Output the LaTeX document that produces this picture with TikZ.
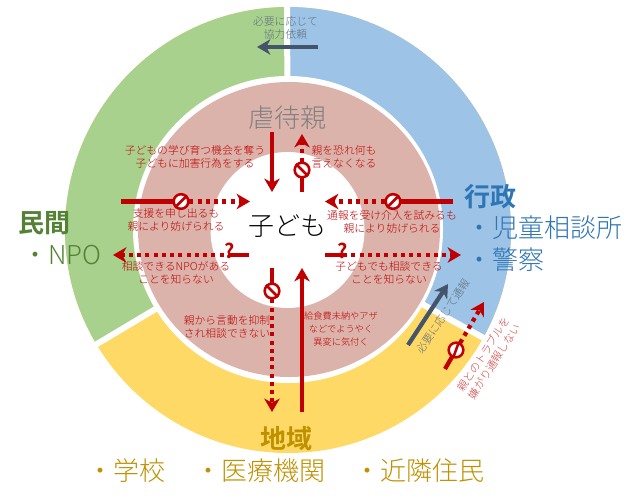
\documentclass[tikz,border=0pt]{standalone}
\usepackage{fontspec}
\setmainfont{Noto Sans CJK JP Light}[BoldFont={Noto Sans CJK JP Bold}]
\usetikzlibrary{arrows.meta}
\definecolor{ringgreen}{HTML}{A9D18E}
\definecolor{ringblue}{HTML}{9DC3E6}
\definecolor{ringyellow}{HTML}{FFD966}
\definecolor{ringpink}{HTML}{DBB3AB}
\definecolor{alert}{HTML}{C00000}
\definecolor{slate}{HTML}{44546A}
\definecolor{txtgreen}{HTML}{548235}
\definecolor{txtblue}{HTML}{2E75B6}
\definecolor{txtgold}{HTML}{BF9000}
\tikzset{
  note/.style={text=alert,align=center,inner sep=0pt,font=\fontsize{8.1}{9.75}\selectfont},
  slatenote/.style={text=slate!85!white,align=center,inner sep=0pt,font=\fontsize{8.1}{9.75}\selectfont},
  large/.style={inner sep=0pt,font=\fontsize{19.5}{22}\selectfont},
  largebold/.style={inner sep=0pt,font=\fontsize{19.5}{22}\selectfont\bfseries},
  gap/.style={white,line width=4.5pt},
  solidred/.style={alert,line width=3.2pt},
  solidarrow/.style={alert,line width=3.2pt,-{Stealth[length=10pt,width=11.5pt,inset=3pt]}},
  dotarrow/.style={alert,line width=3.2pt,dash pattern=on 3pt off 3.2pt,-{Stealth[length=10pt,width=11.5pt,inset=3pt]}},
  slatearrow/.style={slate,line width=3.2pt,-{Stealth[length=10pt,width=11.5pt,inset=3pt]}},
  nosign/.style={circle,draw=alert,fill=white,line width=1.9pt,minimum size=11pt,inner sep=0pt},
  slash/.style={alert,line width=1.9pt},
  query/.style={text=alert,inner sep=0pt,font=\fontsize{15}{15}\selectfont\bfseries},
}
\begin{document}
\begin{tikzpicture}[x=0.75pt,y=-0.75pt]
\useasboundingbox (0,0) rectangle (641,503);
\coordinate (c) at (288,230);

% outer ring, three sectors
\fill[ringyellow] (c) circle[radius=223];
\begin{scope}
  \clip (c) -- (288,-10) -- (-20,-10) -- (-20,415) -- cycle;
  \fill[ringgreen] (c) circle[radius=223];
\end{scope}
\begin{scope}
  \clip (c) -- (288,-10) -- (660,-10) -- (660,436) -- cycle;
  \fill[ringblue] (c) circle[radius=223];
\end{scope}
\draw[gap] (c) -- (287,0);
\draw[gap] (c) -- (60,366);
\draw[gap] (c) -- (520,358);

% inner rings
\fill[white] (288,229.5) ellipse[x radius=155,y radius=153.5];
\fill[ringpink] (289,229.5) ellipse[x radius=151,y radius=147.5];
\fill[white] (287.5,230) ellipse[x radius=77,y radius=78];

% sector headings
\node[largebold,text=txtgreen] (minkan) at (44,223) {民間};
\node[large,text=txtgreen,anchor=west] (npo) at (22,255) {・NPO};
\node[largebold,text=txtblue] (gyosei) at (490,197) {行政};
\node[large,text=txtblue,anchor=west] (jido) at (466,228) {・児童相談所};
\node[large,text=txtblue,anchor=west] (keisatsu) at (466,260) {・警察};
\node[largebold,text=txtgold] (chiiki) at (286,439) {地域};
\node[large,text=txtgold,anchor=west] (gakko) at (87,471) {・学校};
\node[large,text=txtgold,anchor=west] (iryo) at (195,471) {・医療機関};
\node[large,text=txtgold,anchor=west] (kinrin) at (354,471) {・近隣住民};
\node[large,text=gray] (oya) at (287,118) {虐待親};
\node[large,text=black] (kodomo) at (287,226) {子ども};

% explanatory notes
\node[slatenote] (n0) at (285.5,27.5) {必要に応じて\\協力依頼};
\node[note] (n1) at (195,156.5) {子どもの学び育つ機会を奪う\\子どもに加害行為をする};
\node[note] (n2) at (344,156.5) {親を恐れ何も\\言えなくなる};
\node[note] (n3) at (176,219.5) {支援を申し出るも\\親により妨げられる};
\node[note] (n4) at (392,221.5) {通報を受け介入を試みるも\\親により妨げられる};
\node[note] (n5) at (176,272.5) {相談できるNPOがある\\ことを知らない};
\node[note] (n6) at (389,272.5) {子どもでも相談できる\\ことを知らない};
\node[note] (n7) at (227,327) {親から言動を抑制\\され相談できない};
\node[note,font=\fontsize{6.9}{9.75}\selectfont] (n8) at (341,329) {給食費未納やアザ\\などでようやく\\異変に気付く};
\node[slatenote,rotate=56] (n9) at (443,316) {必要に応じて通報};
\node[note,text=alert!75!white,rotate=57] (n10) at (489,358) {親とのトラブルを\\嫌がり通報しない};

% connector end points
\coordinate (a0s) at (318,47);   \coordinate (a0e) at (257,47);
\coordinate (a1s) at (272,132);  \coordinate (a1e) at (272,192);
\coordinate (a2s) at (302,192);  \coordinate (a2e) at (302,134);
\coordinate (a3s) at (121,201.5);\coordinate (a3e) at (250,201.5);
\coordinate (a4s) at (453,201.5);\coordinate (a4e) at (325,201.5);
\coordinate (a5s) at (249,255);  \coordinate (a5e) at (113,255);
\coordinate (a6s) at (325,255);  \coordinate (a6e) at (461,255);
\coordinate (a7s) at (272,268);  \coordinate (a7e) at (272,412);
\coordinate (a8s) at (302,412);  \coordinate (a8e) at (302,268);
\coordinate (a9s) at (408,345);  \coordinate (a9e) at (448,284);
\coordinate (a10s) at (445,369); \coordinate (a10e) at (484,302);

% positions of the symbols on the connectors
\coordinate (s2) at (302,170);
\coordinate (s3) at (181,201.5);
\coordinate (s4) at (393,201.5);
\coordinate (s5) at (232,255);
\coordinate (s6) at (343,255);
\coordinate (s7) at (272,291);
\coordinate (s10) at (456,350);

% connectors
\draw[slatearrow] (a0s) -- (a0e);
\draw[slatearrow] (a9s) -- (a9e);
\draw[solidarrow] (a1s) -- (a1e);
\draw[solidarrow] (a8s) -- (a8e);
\draw[solidred] (a2s) -- (s2);  \draw[dotarrow] (s2) -- (a2e);
\draw[solidred] (a3s) -- (s3);  \draw[dotarrow] (s3) -- (a3e);
\draw[solidred] (a4s) -- (s4);  \draw[dotarrow] (s4) -- (a4e);
\draw[solidred] (a5s) -- (s5);  \draw[dotarrow] (s5) -- (a5e);
\draw[solidred] (a6s) -- (s6);  \draw[dotarrow] (s6) -- (a6e);
\draw[solidred] (a7s) -- (s7);  \draw[dotarrow] (s7) -- (a7e);
\draw[solidred] (a10s) -- (s10);\draw[dotarrow] (s10) -- (a10e);

% prohibition signs
\node[nosign] (b2) at (s2) {};  \draw[slash] (b2.135) -- (b2.315);
\node[nosign] (b3) at (s3) {};  \draw[slash] (b3.45) -- (b3.225);
\node[nosign] (b4) at (s4) {};  \draw[slash] (b4.45) -- (b4.225);
\node[nosign] (b7) at (s7) {};  \draw[slash] (b7.135) -- (b7.315);
\node[nosign] (b10) at (s10) {};\draw[slash] (b10.70) -- (b10.250);

% question marks
\node[query] (q5) at (230,251) {?};
\node[query] (q6) at (343,251) {?};
\end{tikzpicture}
\end{document}
